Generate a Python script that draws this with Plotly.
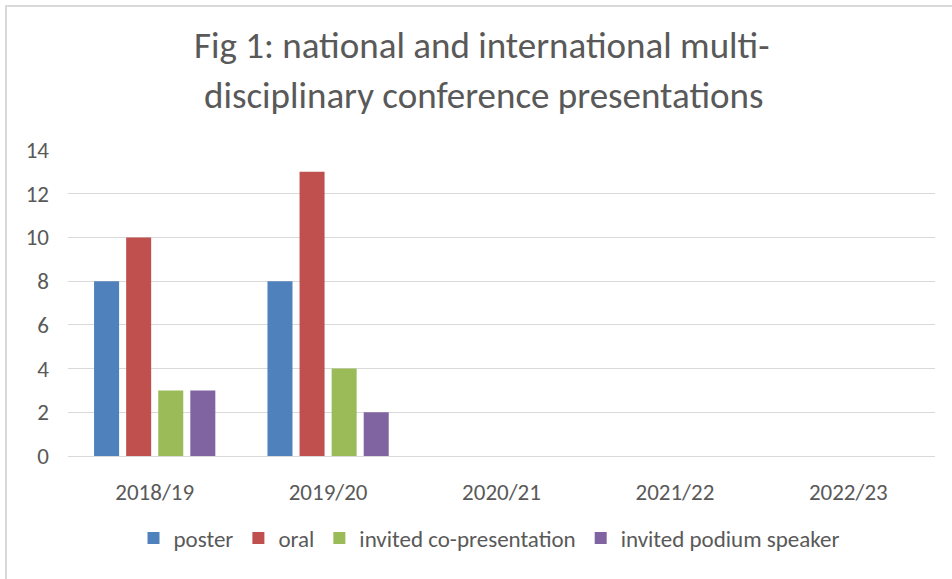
import plotly.graph_objects as go

categories = ["2018/19", "2019/20", "2020/21", "2021/22", "2022/23"]
poster = [8, 8, None, None, None]
oral = [10, 13, None, None, None]
invited_co = [3, 4, None, None, None]
invited_podium = [3, 2, None, None, None]

series_names = ["poster", "oral", "invited co-presentation", "invited podium speaker"]
series_values = [poster, oral, invited_co, invited_podium]
colors = ["#4F81BD", "#C0504D", "#9BBB59", "#8064A2"]
y_ticks = [0, 2, 4, 6, 8, 10, 12, 14]

FONT = "Calibri, Carlito, 'Liberation Sans Narrow', 'Arial Narrow', sans-serif"
GREY = "#595959"
SMALL = 23

fig = go.Figure()
for name, vals, col in zip(series_names, series_values, colors):
    fig.add_trace(go.Bar(x=categories, y=vals, name=name, marker=dict(color=col, line=dict(width=0))))

W, H = 952, 579
L, R, T, B = 68, 17, 150, 123
pw, ph = W - L - R, H - T - B

def px_x(p):
    return (p - L) / pw

def px_y(p):
    return (H - B - p) / ph

fig.update_layout(
    width=W, height=H,
    margin=dict(l=L, r=R, t=T, b=B, autoexpand=False),
    paper_bgcolor="white", plot_bgcolor="white",
    barmode="group", bargap=0.26, bargroupgap=0.22,
    font=dict(family=FONT, color=GREY, size=SMALL),
    showlegend=True,
    legend=dict(orientation="h", x=px_x(489), xanchor="center", y=px_y(538), yanchor="middle",
                font=dict(size=SMALL, color=GREY, family=FONT), itemwidth=30,
                traceorder="normal"),
    xaxis=dict(showgrid=False, showline=False, ticks="", ticklabelstandoff=20, automargin=False,
               tickfont=dict(size=SMALL, color=GREY, family=FONT)),
    yaxis=dict(range=[0, 14], tickvals=y_ticks, showgrid=True, gridcolor="#D9D9D9", gridwidth=1,
               zeroline=True, zerolinecolor="#D9D9D9", zerolinewidth=1, showline=False, automargin=False,
               ticks="", ticklabelstandoff=18, tickfont=dict(size=SMALL, color=GREY, family=FONT)),
)

fig.add_annotation(text="Fig 1: national and international multi-", xref="paper", yref="paper",
                   x=px_x(482), y=px_y(45), xanchor="center", yanchor="middle", showarrow=False,
                   font=dict(size=37, color=GREY, family=FONT))
fig.add_annotation(text="disciplinary conference presentations", xref="paper", yref="paper",
                   x=px_x(483), y=px_y(95), xanchor="center", yanchor="middle", showarrow=False,
                   font=dict(size=37, color=GREY, family=FONT))

fig.add_shape(type="rect", xref="paper", yref="paper",
              x0=px_x(6), x1=px_x(1000), y0=px_y(640), y1=px_y(6),
              line=dict(color="#D9D9D9", width=2), fillcolor="rgba(0,0,0,0)", layer="below")

fig.write_html("out.html", config={"displayModeBar": False},
               post_script="document.body.style.margin='0';document.body.style.overflow='hidden';")
